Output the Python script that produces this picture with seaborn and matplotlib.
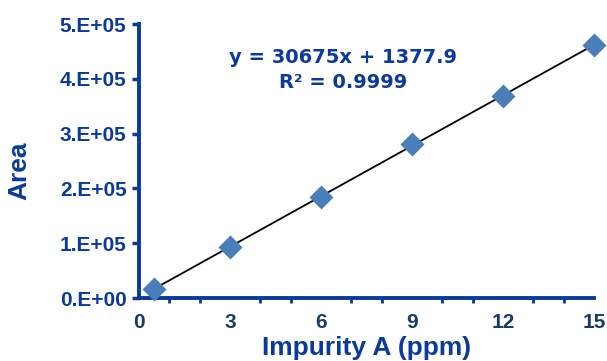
import matplotlib
matplotlib.use("Agg")
import matplotlib.pyplot as plt
import numpy as np
import seaborn as sns

# calibration data
conc_ppm = [0.5, 3, 6, 9, 12, 15]
area = [16500, 93000, 185000, 281000, 369000, 461000]
x_ticks = [0, 3, 6, 9, 12, 15]
y_ticks = [0, 1e5, 2e5, 3e5, 4e5, 5e5]
y_ticklabels = ["0.E+00", "1.E+05", "2.E+05", "3.E+05", "4.E+05", "5.E+05"]
equation = "y = 30675x + 1377.9"
r2_text = "R² = 0.9999"

BLUE = "#0a3a9c"
NAVY = "#173a6a"
MARK = "#4a7ebb"

sns.set_theme(style="white")
plt.rcParams["font.family"] = ["Liberation Sans", "DejaVu Sans"]
plt.rcParams["font.weight"] = "bold"

fig = plt.figure(figsize=(6.07, 3.61), dpi=100)
ax = fig.add_axes([0.229, 0.1745, 0.7496, 0.759])

slope, icpt = np.polyfit(conc_ppm, area, 1)
xs = np.array([conc_ppm[0], conc_ppm[-1]])
ax.plot(xs, slope * xs + icpt, color="black", lw=1.3, zorder=2)
sns.scatterplot(x=conc_ppm, y=area, marker="D", s=150, color=MARK,
                edgecolor=MARK, linewidth=0, ax=ax, zorder=3, clip_on=False)

ax.set_xlim(0, 15)
ax.set_ylim(0, 5e5)
ax.set_xticks(x_ticks)
ax.set_xticks(np.arange(0, 16, 1), minor=True)
ax.set_yticks(y_ticks)
ax.set_yticklabels(y_ticklabels)
ax.tick_params(axis="x", which="major", direction="out", length=6, width=2.5,
               color=BLUE, labelcolor=NAVY, labelsize=15, pad=5)
ax.tick_params(axis="x", which="minor", direction="out", length=3.5, width=2,
               color=BLUE, bottom=True)
ax.tick_params(axis="y", which="major", direction="out", length=5, width=2.5,
               color=BLUE, labelcolor=BLUE, labelsize=15, left=True, pad=4)
plt.setp(ax.get_xticklabels() + ax.get_yticklabels(),
         family="Liberation Sans", fontweight="bold")

for side in ("top", "right"):
    ax.spines[side].set_visible(False)
for side in ("left", "bottom"):
    ax.spines[side].set_color(BLUE)
    ax.spines[side].set_linewidth(2.8)

ax.set_xlabel("Impurity A (ppm)", fontsize=19, fontweight="bold", color=BLUE,
              family="Liberation Sans")
ax.xaxis.set_label_coords(0.501, -0.138)
ax.set_ylabel("Area", fontsize=19, fontweight="bold", color=BLUE,
              family="Liberation Sans")
ax.yaxis.set_label_coords(-0.262, 0.464)
ax.yaxis.label.set_va("center")

ax.text(0.448, 0.876, equation, transform=ax.transAxes, ha="center",
        va="center", fontsize=14, fontweight="bold", color=BLUE,
        family="DejaVu Sans")
ax.text(0.448, 0.785, r2_text, transform=ax.transAxes, ha="center",
        va="center", fontsize=14, fontweight="bold", color=BLUE,
        family="DejaVu Sans")

fig.savefig("out.png", dpi=100)
